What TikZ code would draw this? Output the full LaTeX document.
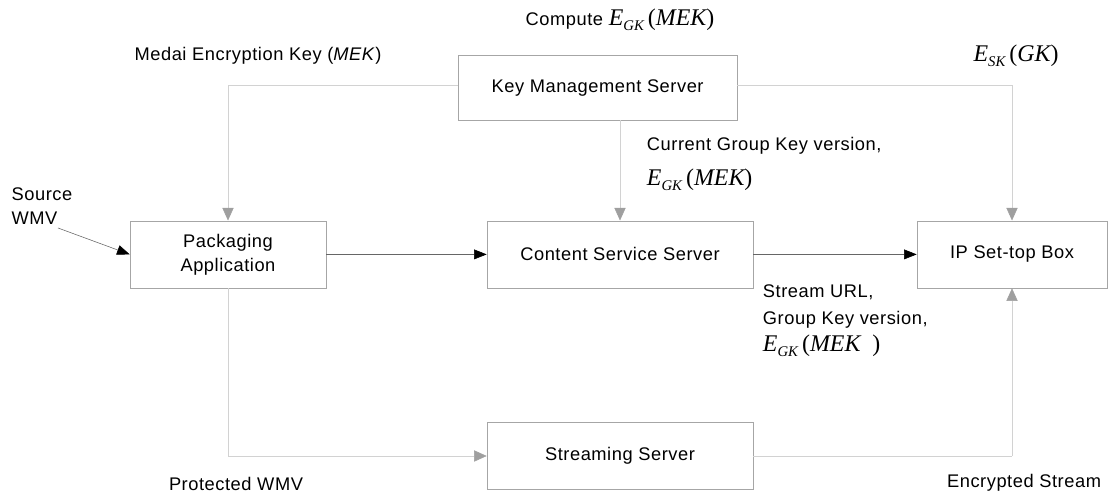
\documentclass[tikz,border=0pt]{standalone}
\usepackage{fontspec}
\setmainfont{Liberation Sans}[LetterSpace=3]
\newfontfamily\serf{Liberation Serif}
\usetikzlibrary{arrows.meta,positioning,calc}

\newcommand{\enc}[2]{{\serf\fontsize{17}{19}\selectfont\itshape E\raisebox{-0.45ex}{\fontsize{10.5}{10.5}\selectfont #1}\,\upshape(\itshape #2\upshape)}}

\begin{document}
\begin{tikzpicture}[
    font=\fontsize{13}{17}\selectfont,
    box/.style={draw=gray!70, minimum height=1.68cm, align=center},
    faint/.style={draw=gray!35, -{Triangle[length=9pt,width=8pt,color=gray!75,fill=gray!75]}},
    plain/.style={draw=gray!35},
    dark/.style={draw=gray!80!black, -{Triangle[length=9pt,width=7pt,color=black,fill=black]}}
]
\useasboundingbox (0,0) rectangle (27.725,12.45);

\node[box, minimum width=6.975cm, minimum height=1.625cm] (kms) at (14.94,10.26) {Key Management Server};
\node[box, minimum width=4.9cm] (pack) at (5.7,6.09) {Packaging\\Application};
\node[box, minimum width=6.65cm] (css) at (15.5,6.09) {Content Service Server};
\node[box, minimum width=4.75cm] (ipb) at (25.3,6.09) {IP Set-top Box};
\node[box, minimum width=6.65cm] (sss) at (15.5,1.05) {Streaming Server};

% labels
\node (compute) at (15.5,11.95) {Compute \enc{GK}{MEK}};
\node (mek) at (6.45,11.05) {Medai Encryption Key (\textit{MEK})};
\node (esk) at (25.4,11.05) {\enc{SK}{GK}};
\node[anchor=west] (cur) at (16.05,8.8) {Current Group Key version,};
\node[anchor=west] (cureg) at (16.05,7.95) {\enc{GK}{MEK}};
\node[anchor=north west, align=left, font=\fontsize{13}{19}\selectfont] (url) at (18.95,5.45) {Stream URL,\\Group Key version,\\\enc{GK}{MEK\enspace}};
\node[align=left] (src) at (1.05,7.3) {Source\\WMV};
\node[anchor=south] (prot) at (5.9,0.05) {Protected WMV};
\node[anchor=south east] (encs) at (27.65,0.05) {Encrypted Stream};

\coordinate (srcend) at (1.45,6.75);
\coordinate (kl) at ($(kms.west)+(0,0.05)$);
\coordinate (kr) at ($(kms.east)+(0,0.05)$);
\coordinate (sl) at (pack.south |- sss.west);
\coordinate (sr) at (ipb.south |- sss.east);

% connectors
\draw[faint] (kl) -| (pack.north);
\draw[faint] (kms.south -| css.north) -- (css.north);
\draw[faint] (kr) -| (ipb.north);
\draw[dark] (srcend) -- (pack.west);
\draw[dark] (pack.east) -- (css.west);
\draw[dark] (css.east) -- (ipb.west);
\draw[faint] (pack.south) -- (sl) -- (sss.west);
\draw[plain] (sss.east) -- (sr);
\draw[faint] (sr) -- (ipb.south);
\end{tikzpicture}
\end{document}
